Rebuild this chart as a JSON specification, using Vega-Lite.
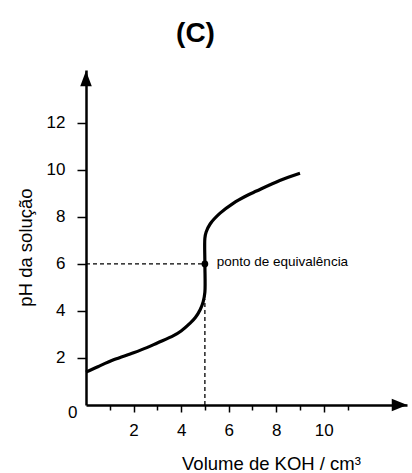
{
  "$schema": "https://vega.github.io/schema/vega-lite/v6.json",
  "autosize": {"type": "none"},
  "padding": {"left": 86, "top": 70, "right": 5, "bottom": 68},
  "width": 321,
  "height": 335,
  "background": "white",
  "title": {
    "text": "(C)",
    "font": "Liberation Sans",
    "fontSize": 28,
    "fontWeight": "bold",
    "color": "black",
    "anchor": "middle",
    "frame": "group",
    "baseline": "alphabetic",
    "offset": 0,
    "dx": -51
  },
  "config": {
    "view": {"stroke": null},
    "axis": {
      "grid": false,
      "domainColor": "black",
      "domainWidth": 2.5,
      "tickColor": "black",
      "tickWidth": 1.5,
      "labelFont": "Liberation Sans",
      "labelFontSize": 17,
      "labelColor": "black",
      "labelBound": false,
      "labelFlush": false,
      "labelOverlap": false,
      "titleFont": "Liberation Sans",
      "titleFontSize": 18.5,
      "titleFontWeight": "normal",
      "titleColor": "black"
    }
  },
  "resolve": {"axis": {"x": "independent"}},
  "layer": [
    {
      "data": {"values": [{"v0": 0, "v1": 5, "ph": 6}]},
      "mark": {"type": "rule", "color": "black", "strokeWidth": 1.3, "strokeDash": [4, 3]},
      "encoding": {
        "x": {"field": "v0", "type": "quantitative", "scale": {"domain": [0, 13.5], "nice": false, "zero": false},
          "axis": {
            "orient": "bottom",
            "values": [2, 4, 6, 8, 10],
            "tickSize": 7,
            "labelPadding": 10,
            "labelFontSize": 17,
            "title": "Volume de KOH / cm³",
            "titleX": 185,
            "titleY": 64,
            "titleAlign": "center",
            "titleBaseline": "alphabetic"
          }
        },
        "x2": {"field": "v1"},
        "y": {"field": "ph", "type": "quantitative", "scale": {"domain": [0, 14.25], "nice": false, "zero": false},
          "axis": {
            "values": [0, 1, 2, 3, 4, 5, 6, 7, 8, 9, 10, 11, 12],
            "labelExpr": "datum.value % 2 == 0 ? datum.label : ''",
            "tickSize": {"condition": {"test": "datum.value % 2 == 0", "value": 9}, "value": 5},
            "tickOpacity": {"condition": {"test": "datum.value == 0", "value": 0}, "value": 1},
            "labelOffset": {"condition": {"test": "datum.value == 0", "value": 7}, "value": 0},
            "labelPadding": {"condition": {"test": "datum.value == 0", "value": 0}, "value": 12},
            "title": "pH da solução",
            "titleAngle": 270,
            "titleX": -55,
            "titleY": 177,
            "titleAlign": "center",
            "titleBaseline": "alphabetic"
          }
        }
      }
    },
    {
      "data": {"values": [{"vol": 5, "ph0": 0, "ph1": 4.5}]},
      "mark": {"type": "rule", "color": "black", "strokeWidth": 1.3, "strokeDash": [4, 3]},
      "encoding": {
        "x": {"field": "vol", "type": "quantitative",
          "axis": {"orient": "bottom", "values": [1, 3, 5, 7, 9, 11], "labels": false, "domain": false, "tickSize": 5, "title": null}},
        "y": {"field": "ph0", "type": "quantitative"},
        "y2": {"field": "ph1"}
      }
    },
    {
      "data": {"values": [
        {"vol": 0, "ph": 1.4},
        {"vol": 0.5, "ph": 1.63},
        {"vol": 1.16, "ph": 1.92},
        {"vol": 2, "ph": 2.22},
        {"vol": 2.56, "ph": 2.44},
        {"vol": 3.0, "ph": 2.64},
        {"vol": 3.68, "ph": 2.95},
        {"vol": 4.0, "ph": 3.15},
        {"vol": 4.38, "ph": 3.48},
        {"vol": 4.6, "ph": 3.72},
        {"vol": 4.8, "ph": 4.05},
        {"vol": 4.93, "ph": 4.4},
        {"vol": 5.0, "ph": 4.8},
        {"vol": 5.0, "ph": 6.0},
        {"vol": 5.0, "ph": 7.1},
        {"vol": 5.05, "ph": 7.35},
        {"vol": 5.22, "ph": 7.7},
        {"vol": 5.64, "ph": 8.16},
        {"vol": 6.19, "ph": 8.58},
        {"vol": 6.75, "ph": 8.9},
        {"vol": 7.17, "ph": 9.1},
        {"vol": 8.15, "ph": 9.55},
        {"vol": 9.0, "ph": 9.86}
      ]},
      "mark": {"type": "line", "color": "black", "strokeWidth": 3.2, "interpolate": "catmull-rom"},
      "encoding": {
        "x": {"field": "vol", "type": "quantitative", "axis": null},
        "y": {"field": "ph", "type": "quantitative"},
        "order": {"value": 0}
      }
    },
    {
      "data": {"values": [{"vol": 5, "ph": 6}]},
      "mark": {"type": "point", "filled": true, "color": "black", "opacity": 1, "size": 45},
      "encoding": {
        "x": {"field": "vol", "type": "quantitative", "axis": null},
        "y": {"field": "ph", "type": "quantitative"}
      }
    },
    {
      "data": {"values": [{"vol": 5.5, "ph": 6, "label": "ponto de equivalência"}]},
      "mark": {"type": "text", "align": "left", "baseline": "middle", "font": "Liberation Sans", "fontSize": 13.5, "color": "black", "dy": -2},
      "encoding": {
        "x": {"field": "vol", "type": "quantitative", "axis": null},
        "y": {"field": "ph", "type": "quantitative"},
        "text": {"field": "label"}
      }
    },
    {
      "data": {"values": [{"vol": 13.185, "ph": 0, "dir": "right"}, {"vol": 0, "ph": 13.89, "dir": "up"}]},
      "mark": {"type": "point", "filled": true, "color": "black", "opacity": 1, "size": 240, "clip": false},
      "encoding": {
        "x": {"field": "vol", "type": "quantitative", "axis": null},
        "y": {"field": "ph", "type": "quantitative"},
        "shape": {"field": "dir", "type": "nominal", "legend": null,
          "scale": {"domain": ["right", "up"], "range": ["M1,0L-1,-0.8L-1,0.8Z", "M0,-1L-0.75,1L0.75,1Z"]}}
      }
    }
  ]
}
